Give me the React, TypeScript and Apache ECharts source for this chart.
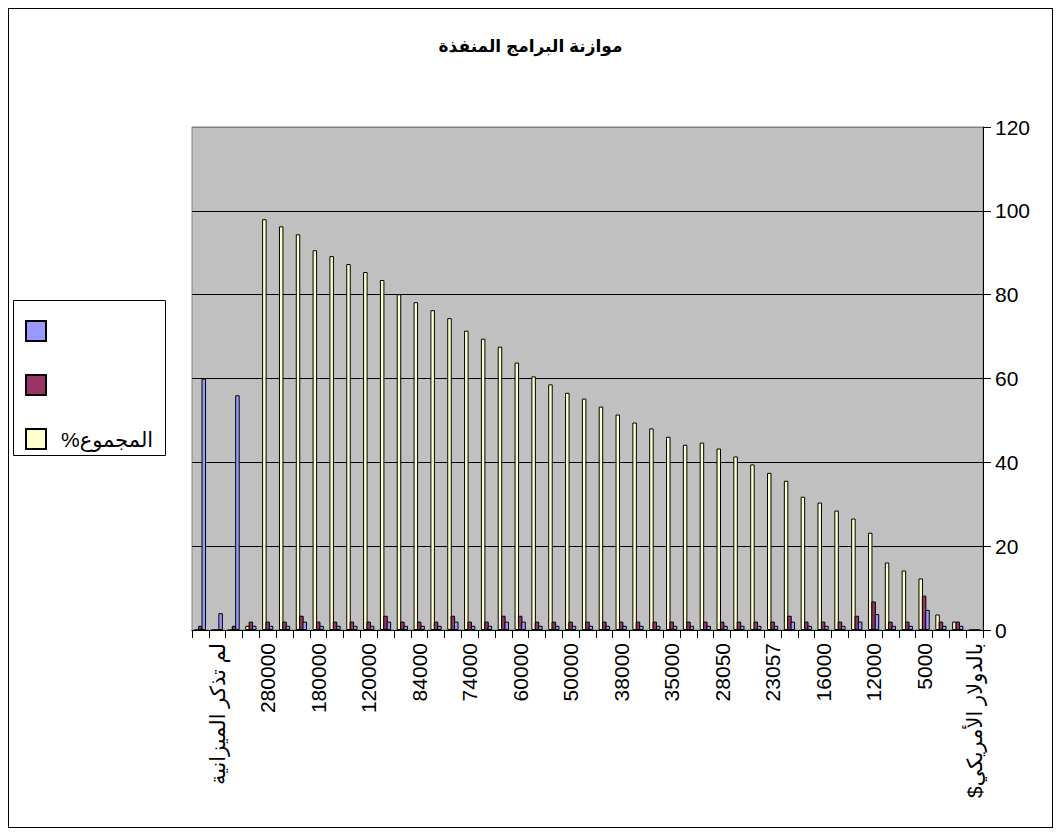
import React, { useEffect, useRef } from "react";
import * as echarts from "echarts";

// Categories, left to right as drawn
const categories = [
  "المجموع", "لم تذكر الميزانية", "500000", "300000", "280000", "250000", "200000",
  "180000", "150000", "130000", "120000", "100000", "90000", "84000", "80000",
  "75000", "74000", "70000", "65000", "60000", "55000", "52000", "50000",
  "45000", "40000", "38000", "37000", "36000", "35000", "32000", "30000",
  "28050", "27000", "25000", "23057", "20000", "18000", "16000", "15000",
  "13000", "12000", "10000", "7000", "5000", "3000", "2000", "بالدولار الأمريكي$\u200F",
];

// المجموع% (yellow)
const totalPct = [
  0, 0, 0, 1, 98, 96.3, 94.4, 90.6, 89.2, 87.3, 85.4, 83.5, 80.1, 78.2, 76.3,
  74.4, 71.4, 69.5, 67.6, 63.8, 60.5, 58.6, 56.6, 55.2, 53.3, 51.4, 49.5, 48.1,
  46.1, 44.2, 44.7, 43.3, 41.4, 39.5, 37.5, 35.6, 31.8, 30.4, 28.5, 26.6, 23.2,
  16.1, 14.2, 12.3, 3.7, 2, 0,
];

// maroon series
const maroonValues = [
  1, 0, 1, 2, 2, 2, 3.4, 2, 2, 2, 2, 3.4, 2, 2, 2, 3.4, 2, 2, 3.4, 3.4, 2, 2,
  2, 2, 2, 2, 2, 2, 2, 2, 2, 2, 2, 2, 2, 3.4, 2, 2, 2, 3.4, 6.8, 2, 2, 8.2, 2, 2, 0,
];

// blue series
const blueValues = [
  60, 4, 56, 1, 1, 1, 2, 1, 1, 1, 1, 2, 1, 1, 1, 2, 1, 1, 2, 2, 1, 1, 1, 1, 1,
  1, 1, 1, 1, 1, 1, 1, 1, 1, 1, 2, 1, 1, 1, 2, 3.8, 1, 1, 4.8, 1, 1, 0,
];

const seriesNames = [" ", "  ", "المجموع%\u200F"]; // blue, maroon, yellow
const title = "موازنة البرامج المنفذة";
const yMin = 0;
const yMax = 120;
const yInterval = 20;

const FONT = "'Liberation Sans', 'DejaVu Sans', Arial, sans-serif";

export default function App() {
  const ref = useRef<HTMLDivElement>(null);

  useEffect(() => {
    if (!ref.current) return;
    const chart = echarts.init(ref.current, null, { renderer: "svg" });
    const barBase = {
      type: "bar",
      barWidth: 4.5,
      barGap: "-25%",
      barCategoryGap: "20%",
    };
    chart.setOption({
      animation: false,
      textStyle: { fontFamily: FONT, color: "#000" },
      title: {
        text: title,
        left: "center",
        top: 24,
        textStyle: { fontFamily: FONT, fontSize: 17, fontWeight: "bold", color: "#000" },
      },
      graphic: [
        {
          type: "rect",
          z: 0,
          shape: { x: 4.5, y: 291.5, width: 152, height: 155 },
          style: { fill: "#fff", stroke: "#000", lineWidth: 1 },
        },
      ],
      legend: {
        orient: "vertical",
        left: 16,
        top: 311,
        padding: 0,
        itemWidth: 20,
        itemHeight: 20,
        itemGap: 32,
        icon: "rect",
        data: [seriesNames[0], seriesNames[1], seriesNames[2]],
        textStyle: { fontFamily: FONT, fontSize: 21, color: "#000", padding: [0, 0, 0, 10] },
        selectedMode: false,
      },
      grid: {
        left: 183,
        right: 69,
        top: 118,
        bottom: 197,
        show: true,
        backgroundColor: "#C0C0C0",
        borderColor: "#808080",
        borderWidth: 1,
      },
      xAxis: {
        type: "category",
        data: categories,
        boundaryGap: true,
        axisLine: { show: true, lineStyle: { color: "#000", width: 1 } },
        axisTick: { show: true, interval: 0, length: 8, lineStyle: { color: "#000" } },
        axisLabel: {
          interval: (i: number) => i % 3 === 1,
          rotate: 90,
          fontSize: 21,
          margin: 13,
          color: "#000",
          fontFamily: FONT,
        },
        splitLine: { show: false },
      },
      yAxis: {
        type: "value",
        position: "right",
        min: yMin,
        max: yMax,
        interval: yInterval,
        axisLine: { show: true, lineStyle: { color: "#000", width: 1 } },
        axisTick: { show: true, length: 8, lineStyle: { color: "#000" } },
        axisLabel: { fontSize: 21, margin: 12, color: "#000", fontFamily: FONT },
        splitLine: {
          show: true,
          lineStyle: {
            color: ["#000", "#000", "#000", "#000", "#000", "#000", "#808080"],
            width: 1,
          },
        },
      },
      series: [
        {
          ...barBase,
          name: seriesNames[2],
          data: totalPct,
          itemStyle: { color: "#FFFFCC", borderColor: "#000", borderWidth: 1 },
        },
        {
          ...barBase,
          name: seriesNames[1],
          data: maroonValues,
          itemStyle: { color: "#993366", borderColor: "#000", borderWidth: 1 },
        },
        {
          ...barBase,
          name: seriesNames[0],
          data: blueValues,
          itemStyle: { color: "#9999FF", borderColor: "#000", borderWidth: 1 },
        },
      ],
    });
    return () => chart.dispose();
  }, []);

  return (
    <div
      ref={ref}
      style={{
        width: 1045,
        height: 820,
        border: "1px solid #000",
        boxSizing: "border-box",
        background: "#fff",
      }}
    />
  );
}
